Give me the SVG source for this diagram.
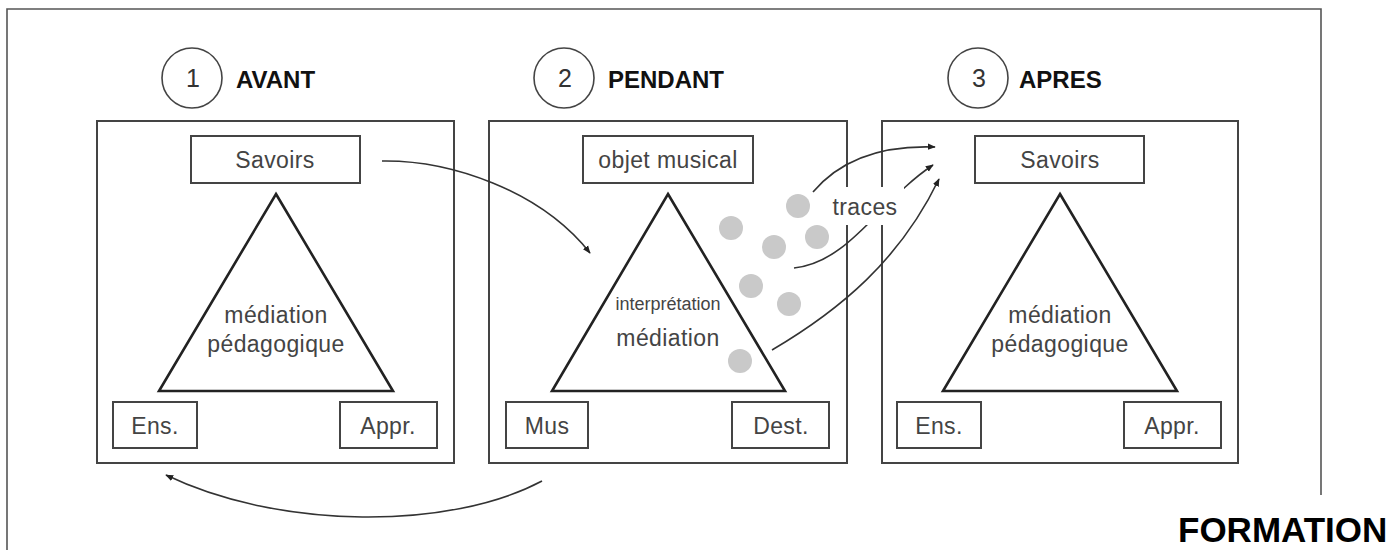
<svg xmlns="http://www.w3.org/2000/svg" width="1395" height="550" viewBox="0 0 1395 550">
<defs>
<style>
.frame{fill:none;stroke:#555;stroke-width:1.6}
.panel{fill:none;stroke:#444;stroke-width:2}
.box{fill:#fff;stroke:#444;stroke-width:2}
.tri{fill:#fff;stroke:#222;stroke-width:2.6;stroke-linejoin:miter}
.lbl{font-family:"Liberation Sans",Arial,sans-serif;font-size:23px;fill:#444;text-anchor:middle;letter-spacing:0.4px}
.small{font-family:"Liberation Sans",Arial,sans-serif;font-size:18px;fill:#444;text-anchor:middle}
.num{font-family:"Liberation Sans",Arial,sans-serif;font-size:25px;fill:#333;text-anchor:middle}
.head{font-family:"Liberation Sans",Arial,sans-serif;font-size:24px;font-weight:bold;fill:#111}
.circ{fill:none;stroke:#444;stroke-width:1.6}
.dot{fill:#c9c9c9}
.arr{fill:none;stroke:#333;stroke-width:1.6}
</style>
<marker id="ah" viewBox="0 0 10 10" refX="9" refY="5" markerWidth="8" markerHeight="8" markerUnits="userSpaceOnUse" orient="auto">
<path d="M0,1 L10,5 L0,9 Z" fill="#222"/>
</marker>
</defs>

<g id="frame">
<path class="frame" d="M7,550 L7,9 L1321,9 L1321,495"/>
</g>

<g id="panel1">
<rect class="panel" x="97" y="121" width="357" height="342"/>
<circle class="circ" cx="192" cy="78" r="30"/>
<text class="num" x="193" y="87">1</text>
<text class="head" x="236" y="88">AVANT</text>
<rect class="box" x="191" y="136" width="169" height="47"/>
<text class="lbl" x="275" y="168">Savoirs</text>
<polygon class="tri" points="276,194 393,391 159,391"/>
<text class="lbl" x="276" y="323">médiation</text>
<text class="lbl" x="276" y="352">pédagogique</text>
<rect class="box" x="113" y="402" width="84" height="46"/>
<text class="lbl" x="155" y="434">Ens.</text>
<rect class="box" x="340" y="402" width="97" height="46"/>
<text class="lbl" x="388" y="434">Appr.</text>
</g>

<g id="panel2">
<rect class="panel" x="489" y="121" width="358" height="342"/>
<circle class="circ" cx="564" cy="78" r="30"/>
<text class="num" x="565" y="87">2</text>
<text class="head" x="608" y="88">PENDANT</text>
<rect class="box" x="583" y="136" width="170" height="47"/>
<text class="lbl" x="668" y="168">objet musical</text>
<polygon class="tri" points="668,194 785,391 552,391"/>
<text class="small" x="668" y="310">interprétation</text>
<text class="lbl" x="668" y="346">médiation</text>
<rect class="box" x="506" y="402" width="82" height="46"/>
<text class="lbl" x="547" y="434">Mus</text>
<rect class="box" x="732" y="402" width="97" height="46"/>
<text class="lbl" x="781" y="434">Dest.</text>
</g>

<g id="panel3">
<rect class="panel" x="882" y="121" width="356" height="342"/>
<circle class="circ" cx="978" cy="78" r="30"/>
<text class="num" x="979" y="87">3</text>
<text class="head" x="1019" y="88">APRES</text>
<rect class="box" x="975" y="136" width="169" height="47"/>
<text class="lbl" x="1060" y="168">Savoirs</text>
<polygon class="tri" points="1060,194 1177,391 943,391"/>
<text class="lbl" x="1060" y="323">médiation</text>
<text class="lbl" x="1060" y="352">pédagogique</text>
<rect class="box" x="897" y="402" width="84" height="46"/>
<text class="lbl" x="939" y="434">Ens.</text>
<rect class="box" x="1124" y="402" width="97" height="46"/>
<text class="lbl" x="1172" y="434">Appr.</text>
</g>

<g id="traces-dots">
<circle class="dot" cx="798" cy="206" r="12"/>
<circle class="dot" cx="731" cy="228" r="12"/>
<circle class="dot" cx="774" cy="247" r="12"/>
<circle class="dot" cx="817" cy="237" r="12"/>
<circle class="dot" cx="751" cy="286" r="12"/>
<circle class="dot" cx="789" cy="304" r="12"/>
<circle class="dot" cx="740" cy="361" r="12"/>
</g>

<g id="connectors">
<path class="arr" d="M382,161 C450,160 540,190 590,253" marker-end="url(#ah)"/>
<path class="arr" d="M813,192 C840,160 880,145 935,147" marker-end="url(#ah)"/>
<path class="arr" d="M794,268 C850,262 880,200 933,165" marker-end="url(#ah)"/>
<path class="arr" d="M772,350 C840,310 900,260 939,179" marker-end="url(#ah)"/>
<path class="arr" d="M542,481 C450,530 280,530 166,475" marker-end="url(#ah)"/>
</g>

<g id="traces-label">
<rect x="828" y="187" width="76" height="38" fill="#fff"/>
<text class="lbl" x="865" y="215">traces</text>
</g>

<g id="title">
<text x="1178" y="542" style="font-family:'Liberation Sans',Arial,sans-serif;font-size:35px;font-weight:bold;fill:#000">FORMATION</text>
</g>
</svg>
